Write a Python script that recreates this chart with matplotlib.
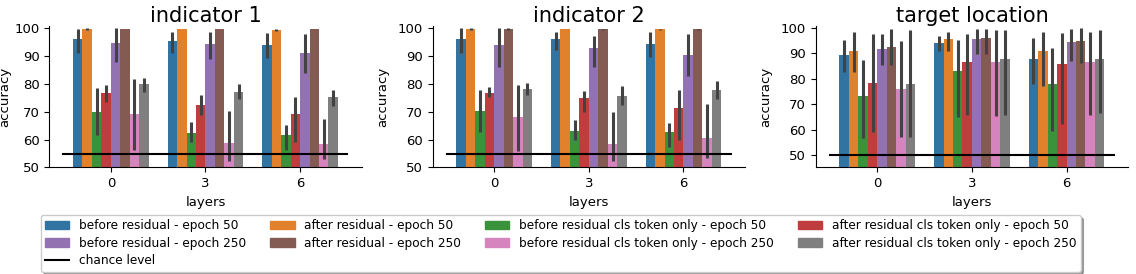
import numpy as np
import matplotlib
matplotlib.use("Agg")
import matplotlib.pyplot as plt
from matplotlib.patches import Patch
from matplotlib.lines import Line2D

# layers probed and series (same order as the bars inside each group)
layers = ["0", "3", "6"]
series = [
    "before residual - epoch 50",
    "after residual - epoch 50",
    "before residual cls token only - epoch 50",
    "after residual cls token only - epoch 50",
    "before residual - epoch 250",
    "after residual - epoch 250",
    "before residual cls token only - epoch 250",
    "after residual cls token only - epoch 250",
]
colors = ["#3274a1", "#e1812c", "#3a923a", "#c03d3e",
          "#9372b2", "#845b53", "#d684bd", "#7f7f7f"]

titles = ["indicator 1", "indicator 2", "target location"]
chance = [55, 55, 50]

# mean accuracy, one row per series, one column per layer
ind1_mean = [[96.0, 95.6, 94.0], [99.7, 99.8, 99.5], [70.0, 62.3, 61.7], [76.7, 72.5, 69.3],
             [94.6, 94.3, 91.0], [99.8, 99.8, 99.8], [69.3, 58.7, 58.5], [79.9, 77.3, 75.2]]
ind1_lo = [[91.0, 91.0, 89.5], [99.4, 99.8, 99.2], [61.5, 59.3, 56.3], [73.7, 68.9, 59.0],
           [88.0, 89.0, 84.1], [99.8, 99.8, 99.8], [56.3, 52.5, 53.0], [77.0, 74.5, 72.1]]
ind1_hi = [[99.8, 98.7, 98.3], [100.0, 99.8, 99.8], [78.4, 66.3, 65.1], [79.6, 76.1, 75.2],
           [100.0, 98.6, 98.0], [99.8, 99.8, 99.8], [81.8, 70.3, 67.3], [82.0, 79.9, 77.9]]

ind2_mean = [[96.2, 96.0, 94.3], [99.7, 99.8, 99.6], [70.3, 63.2, 62.6], [76.9, 74.8, 71.2],
             [94.0, 93.0, 90.4], [99.7, 99.6, 99.6], [68.1, 58.5, 60.5], [78.2, 75.7, 77.9]]
ind2_lo = [[91.0, 92.2, 89.6], [99.4, 99.8, 99.3], [62.9, 59.9, 57.5], [75.5, 69.9, 59.9],
           [86.2, 86.2, 82.9], [99.4, 99.3, 99.3], [56.1, 52.2, 53.3], [76.1, 72.5, 74.5]]
ind2_hi = [[100.0, 98.8, 98.6], [100.0, 99.8, 99.9], [77.9, 67.1, 65.9], [79.1, 77.6, 77.8],
           [100.0, 97.2, 97.8], [100.0, 99.9, 99.9], [79.7, 70.0, 72.7], [80.3, 79.3, 80.9]]

tgt_mean = [[89.4, 93.9, 87.7], [90.9, 95.5, 90.9], [73.2, 83.2, 78.0], [78.2, 86.7, 85.6],
            [91.6, 95.5, 94.4], [92.5, 95.9, 94.8], [76.0, 86.7, 86.7], [78.0, 87.7, 87.7]]
tgt_lo = [[82.5, 90.9, 78.0], [82.5, 90.7, 77.3], [56.6, 64.8, 59.6], [59.2, 65.7, 62.2],
          [85.4, 89.6, 87.0], [85.4, 89.6, 86.3], [57.3, 65.4, 65.7], [57.3, 65.7, 66.6]]
tgt_hi = [[95.2, 96.8, 96.1], [98.1, 98.1, 98.1], [87.4, 95.2, 92.2], [97.4, 97.7, 97.8],
          [97.4, 99.4, 99.4], [99.6, 99.4, 99.7], [94.8, 99.1, 98.4], [99.0, 99.0, 99.1]]

panels = [(ind1_mean, ind1_lo, ind1_hi),
          (ind2_mean, ind2_lo, ind2_hi),
          (tgt_mean, tgt_lo, tgt_hi)]
ylims = [(50, 100.8), (50, 100.8), (45.2, 100.6)]

fig = plt.figure(figsize=(11.36, 2.74), dpi=100)
lefts = [0.0434, 0.3809, 0.7181]

x = np.arange(len(layers))
n = len(series)
bw = 0.8 / n

for k, (mean, lo, hi) in enumerate(panels):
    ax = fig.add_axes([lefts[k], 0.3887, 0.2749, 0.516])
    mean, lo, hi = np.array(mean), np.array(lo), np.array(hi)
    for i in range(n):
        pos = x + (i - (n - 1) / 2) * bw
        ax.bar(pos, mean[i], width=bw, color=colors[i], zorder=2)
        ax.vlines(pos, lo[i], hi[i], color="#424242", lw=2.2, zorder=3)
    ax.plot([-0.5, 2.5], [chance[k]] * 2, color="black", lw=1.5, zorder=4)
    ax.set_xlim(-0.65, 2.65)
    ax.set_ylim(*ylims[k])
    ax.set_yticks([50, 60, 70, 80, 90, 100])
    ax.set_xticks(x)
    ax.set_xticklabels(layers)
    ax.tick_params(labelsize=9.5)
    ax.set_xlabel("layers", fontsize=9.5)
    ax.set_ylabel("accuracy", fontsize=9.5, labelpad=2 if k == 0 else 6)
    ax.set_title(titles[k], fontsize=15, pad=3)
    ax.spines["top"].set_visible(False)
    ax.spines["right"].set_visible(False)

# legend, column-major order so rows read like the original
patches = [Patch(color=c, label=s) for c, s in zip(colors, series)]
line = Line2D([], [], color="black", lw=1.5, label="chance level")
handles = [patches[0], patches[4], line, patches[1], patches[5],
           patches[2], patches[6], patches[3], patches[7]]
fig.legend(handles=handles, labels=[h.get_label() for h in handles],
           loc="upper left", bbox_to_anchor=(41 / 1136, 1 - 215 / 274),
           ncol=4, fontsize=8.7, shadow=True, labelspacing=0.38,
           borderpad=0.35, borderaxespad=0)

fig.savefig("out.png", dpi=100)
